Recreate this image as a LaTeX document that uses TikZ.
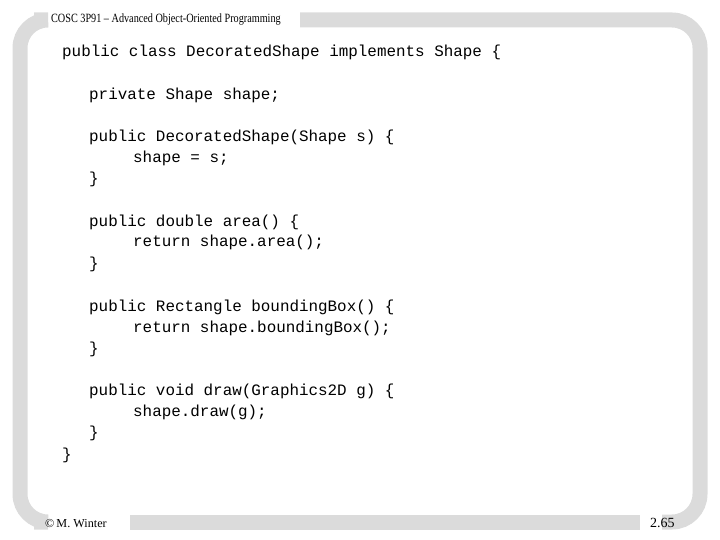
\documentclass[tikz,border=0pt]{standalone}
\usepackage{fontspec}
\setmainfont{Liberation Serif}
\setmonofont{Liberation Mono}
\begin{document}
\begin{tikzpicture}[x=1pt,y=-1pt,
  code/.style={anchor=base west,inner sep=0pt,font=\ttfamily\fontsize{15.9}{18}\selectfont},
  lbl/.style={anchor=base west,inner sep=0pt,font=\fontsize{14}{16}\selectfont},
  frame/.style={line width=15pt,color=black!14}]
\useasboundingbox (0,0) rectangle (720,540);
\draw[frame,rounded corners=28pt] (34,20) -- (20,20) -- (20,522) -- (34,522);
\draw[frame] (130,522) -- (640,522);
\draw[frame,rounded corners=28pt] (300,20) -- (700,20) -- (700,522) -- (662,522);
\node[lbl,xscale=0.73,yscale=0.9] (title) at (51,23) {COSC 3P91 -- Advanced Object-Oriented Programming};
\node[lbl,scale=0.87] (cp) at (45,527) {\textcopyright\,M. Winter};
\node[lbl] (pg) at (650,527) {2.65};
\node[code] (l1) at (62,57) {public class DecoratedShape implements Shape \{};
\node[code] (l2) at (89,100) {private Shape shape;};
\node[code] (l3) at (89,142) {public DecoratedShape(Shape s) \{};
\node[code] (l4) at (133,163) {shape = s;};
\node[code] (l5) at (89,184) {\}};
\node[code] (l6) at (89,226) {public double area() \{};
\node[code] (l7) at (133,247) {return shape.area();};
\node[code] (l8) at (89,268) {\}};
\node[code] (l9) at (89,311) {public Rectangle boundingBox() \{};
\node[code] (l10) at (133,332) {return shape.boundingBox();};
\node[code] (l11) at (89,353) {\}};
\node[code] (l12) at (89,395) {public void draw(Graphics2D g) \{};
\node[code] (l13) at (133,416) {shape.draw(g);};
\node[code] (l14) at (89,437) {\}};
\node[code] (l15) at (62,459) {\}};
\end{tikzpicture}
\end{document}
